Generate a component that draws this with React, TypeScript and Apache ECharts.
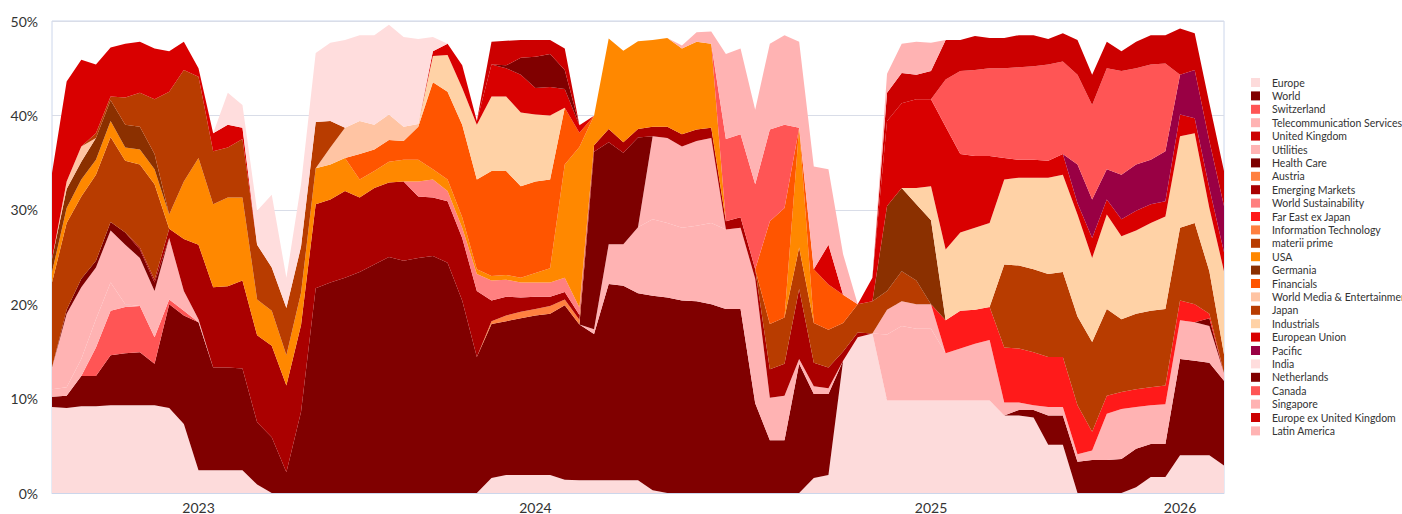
import React, { useEffect, useRef } from "react";
import * as echarts from "echarts";

// x positions (weekly-ish samples) and year ticks
const pointCount = 81;
const categories: string[] = Array.from({ length: pointCount }, (_, i) => String(i));
const yearLabels = ["2023", "2024", "2025", "2026"];
const yearIndex = [10, 33, 60, 77];
const yTicks = [0, 10, 20, 30, 40, 50];

const europe = [9.1, 9.0, 9.2, 9.2, 9.3, 9.3, 9.3, 9.3, 9.0, 7.3,
  2.4, 2.4, 2.4, 2.4, 0.9, 0, 0, 0, 0, 0,
  0, 0, 0, 0, 0, 0, 0, 0, 0, 0,
  1.6, 1.9, 1.9, 1.9, 1.9, 1.4, 1.35, 1.35, 1.35, 1.35,
  1.35, 0.3, 0, 0, 0, 0, 0, 0, 0, 0,
  0, 0, 1.6, 1.9, 14.0, 16.5, 16.9, 9.8, 9.8, 9.8,
  9.8, 9.8, 9.8, 9.8, 9.8, 8.2, 8.2, 8.0, 5.1, 5.1,
  0, 0, 0, 0, 0.6, 1.7, 1.7, 4.0, 4.0, 4.0,
  2.9];
const world = [1.1, 1.3, 3.2, 3.2, 5.3, 5.5, 5.6, 4.4, 11.0, 11.5,
  15.7, 10.9, 10.9, 10.8, 6.6, 5.9, 2.2, 8.6, 21.7, 22.3,
  22.8, 23.4, 24.2, 25.0, 24.6, 24.9, 25.1, 24.4, 20.4, 14.4,
  16.3, 16.3, 16.6, 16.9, 17.1, 18.5, 16.5, 15.5, 20.8, 20.6,
  19.8, 20.6, 20.7, 20.4, 20.3, 20.0, 19.5, 19.5, 9.5, 5.6,
  5.6, 13.7, 8.9, 8.6, 0, 0, 0, 0, 0, 0,
  0, 0, 0, 0, 0, 0, 0.6, 0.8, 3.1, 3.1,
  3.3, 3.5, 3.5, 3.6, 4.1, 3.5, 3.5, 10.2, 10.0, 9.8,
  9.0];
const switzerland = [0, 0, 0, 3.0, 4.7, 4.9, 4.9, 2.8, 0.5, 0.5,
  0, 0, 0, 0, 0, 0, 0, 0, 0, 0,
  0, 0, 0, 0, 0, 0, 0, 0, 0, 0,
  0, 0, 0, 0, 0, 0, 0, 0, 0, 0,
  0, 0, 0, 0, 0, 0, 0, 0, 0, 0,
  0, 0, 0, 0, 0, 0, 0, 0, 0, 0,
  0, 0, 0, 0, 0, 0, 0, 0, 0, 0,
  0, 0, 0, 0, 0, 0, 0, 0, 0, 0,
  0];
const telecom = [0.8, 0.9, 1.8, 3.0, 3.0, 0.3, 0, 0, 0, 0,
  0, 0, 0, 0, 0, 0, 0, 0, 0, 0,
  0, 0, 0, 0, 0, 0, 0, 0, 0, 0,
  0, 0, 0, 0, 0, 0, 0, 0.5, 4.2, 4.4,
  7.0, 8.1, 7.9, 7.7, 8.0, 8.6, 8.4, 8.6, 13.2, 4.5,
  4.7, 0.5, 0.8, 0.6, 0, 0, 0, 7.0, 7.9, 7.6,
  7.6, 5.0, 5.5, 6.0, 6.4, 1.4, 0.8, 0.5, 0.9, 0.9,
  0.8, 1.0, 4.9, 5.3, 4.4, 4.1, 4.2, 4.1, 4.1, 3.9,
  0.8];
const unitedKingdom = [0, 0, 0, 0, 0, 0, 0, 0, 0, 0,
  0, 0, 0, 0, 0, 0, 0, 0, 0, 0,
  0, 0, 0, 0, 0, 0, 0, 0, 0, 0,
  0, 0, 0, 0, 0, 0, 0, 0, 0, 0,
  0, 0, 0, 0, 0, 0, 0, 0, 0, 0,
  0, 0, 0, 0, 0, 0, 0, 0, 0, 0,
  0, 0, 0, 0, 0, 0, 0, 0, 0, 0,
  0, 0, 0, 0, 0, 0, 0, 0, 0, 0,
  0];
const utilities = [2.3, 7.8, 7.6, 5.5, 5.5, 6.3, 5.1, 4.9, 6.5, 2.1,
  0.3, 0, 0, 0, 0, 0, 0, 0, 0, 0,
  0, 0, 0, 0, 0, 0, 0, 0, 0, 0,
  0, 0, 0, 0, 0, 0, 0, 0, 0, 0,
  0, 8.8, 9.0, 8.6, 9.0, 9.0, 0, 0, 0, 0,
  0, 0, 0, 0, 0, 0, 0, 2.6, 2.6, 2.6,
  2.6, 0, 0, 0, 0, 0, 0, 0, 0, 0,
  0, 0, 0, 0, 0, 0, 0, 0, 0, 0,
  0];
const healthCare = [0, 0.4, 0.9, 0.7, 0.9, 1.3, 0.9, 0.9, 0, 0,
  0, 0, 0, 0, 0, 0, 0, 0, 0, 0,
  0, 0, 0, 0, 0, 0, 0, 0, 0, 0,
  0, 0, 0, 0, 0, 0, 0, 18.8, 10.8, 9.7,
  9.5, 0, 0, 0, 0, 0, 0, 0, 0, 0,
  0, 0, 0, 0, 0, 0, 0, 0, 0, 0,
  0, 0, 0, 0, 0, 0, 0, 0, 0, 0,
  0, 0, 0, 0, 0, 0, 0, 0, 0, 0.8,
  0];
const austria = [0, 0, 0, 0, 0, 0, 0, 0, 0, 0,
  0, 0, 0, 0, 0, 0, 0, 0, 0, 0,
  0, 0, 0, 0, 0, 0, 0, 0, 0, 0,
  0.3, 0.6, 0.7, 0.7, 0.8, 0.6, 0.5, 0, 0, 0,
  0, 0, 0, 0, 0, 0, 0, 0, 0, 0,
  0, 0, 0, 0, 0, 0, 0, 0, 0, 0,
  0, 0, 0, 0, 0, 0, 0, 0, 0, 0,
  0, 0, 0, 0, 0, 0, 0, 0, 0, 0,
  0];
const emergingMarkets = [0, 0, 0, 0, 0, 0, 0.2, 0.3, 1.0, 5.5,
  7.9, 8.5, 8.6, 9.3, 9.2, 9.7, 9.2, 9.2, 8.9, 8.8,
  9.2, 7.9, 8.1, 7.9, 8.4, 6.5, 6.2, 6.5, 6.6, 7.0,
  2.2, 2.0, 1.5, 1.3, 1.0, 0.8, 0.5, 0.7, 1.4, 1.1,
  0.9, 1.0, 1.2, 1.3, 1.2, 1.1, 0.9, 1.1, 1.0, 3.0,
  3.4, 7.4, 2.5, 2.2, 1.0, 0.5, 0, 0, 0, 0,
  0, 0, 0, 0, 0, 0, 0, 0, 0, 0,
  0, 0, 0, 0, 0, 0, 0, 0, 0, 0,
  0];
const worldSustainability = [0, 0, 0, 0, 0, 0, 0, 0, 0, 0,
  0, 0, 0, 0, 0, 0, 0, 0, 0, 0,
  0, 0, 0, 0, 0, 1.6, 1.9, 1.1, 1.1, 1.8,
  2.1, 1.8, 1.6, 1.5, 1.5, 1.5, 0.8, 0, 0, 0,
  0, 0, 0, 0, 0, 0, 0, 0, 0, 0,
  0, 0, 0, 0, 0, 0, 0, 0, 0, 0,
  0, 0, 0, 0, 0, 0, 0, 0, 0, 0,
  0, 0, 0, 0, 0, 0, 0, 0, 0, 0,
  0];
const farEastExJapan = [0, 0, 0, 0, 0, 0, 0, 0, 0, 0,
  0, 0, 0, 0, 0, 0, 0, 0, 0, 0,
  0, 0, 0, 0, 0, 0, 0, 0, 0, 0,
  0, 0, 0, 0, 0, 0, 0, 0, 0, 0,
  0, 0, 0, 0, 0, 0, 0, 0, 0, 0,
  0, 0, 0, 0, 0, 0, 0, 0, 0, 0,
  0, 3.5, 4.0, 3.6, 3.5, 5.8, 5.7, 5.6, 5.3, 5.3,
  5.2, 2.0, 1.9, 1.8, 1.9, 1.9, 2.0, 2.1, 1.9, 0.5,
  0];
const infoTech = [0, 0, 0, 0, 0, 0, 0, 0, 0, 0,
  0, 0, 0, 0, 0, 0, 0, 0, 0, 0,
  0, 0, 0, 0, 0, 0, 0, 0, 0, 0,
  0, 0, 0, 0, 0, 0, 0, 0, 0, 0,
  0, 0, 0, 0, 0, 0, 0, 0, 0, 0,
  0, 0, 0, 0, 0, 0, 0, 0, 0, 0,
  0, 0, 0, 0, 0, 0, 0, 0, 0, 0,
  0, 0, 0, 0, 0, 0, 0, 0, 0, 0,
  0];
const materiiPrime = [9.0, 9.2, 8.7, 9.1, 9.0, 7.6, 8.8, 10.1, 0, 0,
  0, 0, 0, 0, 0, 0, 0, 0, 0, 0,
  0, 0, 0, 0, 0, 0, 0, 0, 0, 0,
  0, 0, 0, 0, 0, 0, 0, 0, 0, 0,
  0, 0, 0, 0, 0, 0, 0, 0, 0, 4.8,
  4.9, 4.4, 4.2, 4.0, 3.0, 3.0, 3.4, 2.0, 3.2, 2.5,
  0, 0, 0, 0, 0, 8.8, 8.8, 8.8, 8.8, 9.0,
  9.4, 9.5, 9.2, 7.7, 8.0, 8.1, 8.1, 7.7, 8.6, 4.5,
  2.0];
const usa = [1.1, 1.6, 1.8, 1.6, 1.7, 1.4, 1.6, 1.6, 1.5, 6.1,
  9.2, 8.8, 9.4, 8.8, 3.8, 3.7, 3.2, 3.4, 3.8, 3.7,
  3.5, 1.9, 1.8, 2.2, 2.3, 2.3, 1.1, 1.2, 1.1, 0.5,
  0.5, 0.5, 0.5, 1.0, 1.5, 12.0, 17.0, 3.1, 9.6, 9.7,
  9.3, 9.2, 9.4, 9.1, 9.3, 8.9, 0, 0, 0, 0,
  0, 12.7, 0, 0, 0, 0, 0, 0, 0, 0,
  0, 0, 0, 0, 0, 0, 0, 0, 0, 0,
  0, 0, 0, 0, 0, 0, 0, 0, 0, 0,
  0];
const germania = [1.4, 2.0, 1.9, 2.3, 2.2, 2.4, 2.4, 1.6, 0, 0,
  0, 0, 0, 0, 0, 0, 0, 0, 0, 0,
  0, 0, 0, 0, 0, 0, 0, 0, 0, 0,
  0, 0, 0, 0, 0, 0, 0, 0, 0, 0,
  0, 0, 0, 0, 0, 0, 0, 0, 0, 0,
  0, 0, 0, 0, 0, 0, 0, 9.0, 8.8, 8.1,
  8.9, 0, 0, 0, 0, 0, 0, 0, 0, 0,
  0, 0, 0, 0, 0, 0, 0, 0, 0, 0,
  0];
const financials = [0, 0, 0, 0, 0, 0, 0, 0, 0, 0,
  0, 0, 0, 0, 0, 0, 0, 0, 0, 0,
  0, 2.7, 2.3, 2.3, 2.0, 3.5, 9.2, 9.3, 9.8, 9.5,
  11.1, 11.0, 9.7, 9.7, 9.4, 6.0, 1.5, 0, 0, 0,
  0, 0, 0, 0, 0, 0, 0, 0, 0, 10.9,
  11.6, 0, 5.7, 4.8, 3.0, 0, 0, 0, 0, 0,
  0, 0, 0, 0, 0, 0, 0, 0, 0, 0,
  0, 0, 0, 0, 0, 0, 0, 0, 0, 0,
  0];
const worldMedia = [0, 0.8, 1.6, 0, 0, 0, 0, 0, 0, 0,
  0, 0, 0, 0, 0, 0, 0, 0, 0, 1.8,
  3.2, 3.5, 2.6, 2.7, 1.5, 0.3, 0, 0, 0, 0,
  0, 0, 0, 0, 0, 0, 0, 0, 0, 0,
  0, 0, 0, 0, 0, 0, 0, 0, 0, 0,
  0, 0, 0, 0, 0, 0, 0, 0, 0, 0,
  0, 0, 0, 0, 0, 0, 0, 0, 0, 0,
  0, 0, 0, 0, 0, 0, 0, 0, 0, 0,
  0];
const japan = [0, 0, 0, 0.5, 0.4, 2.9, 3.6, 5.8, 13.0, 11.8,
  8.6, 5.6, 5.3, 6.2, 5.8, 4.6, 5.0, 4.9, 4.9, 2.8,
  0, 0, 0, 0, 0, 0, 0, 0, 0, 0,
  0, 0, 0, 0, 0, 0, 0, 0, 0, 0,
  0, 0, 0, 0, 0, 0, 0, 0, 0, 0,
  0, 0, 0, 0, 0, 0, 0, 0, 0, 0,
  0, 0, 0, 0, 0, 0, 0, 0, 0, 0,
  0, 0, 0, 0, 0, 0, 0, 0, 0, 0,
  0];
const industrials = [0, 0, 0, 0, 0, 0, 0, 0, 0, 0,
  0, 0, 0, 0, 0, 0, 0, 0, 0, 0,
  0, 0, 0, 0, 0, 0, 2.8, 3.9, 3.9, 5.8,
  7.9, 7.9, 7.8, 7.1, 6.8, 0, 0, 0, 0, 0,
  0, 0, 0, 0, 0, 0, 0, 0, 0, 0,
  0, 0, 0, 0, 0, 0, 0, 0, 0, 1.7,
  3.6, 7.5, 8.3, 8.7, 8.9, 9.0, 9.3, 9.7, 10.2, 10.3,
  10.8, 8.9, 10.0, 8.8, 8.8, 9.3, 9.8, 9.7, 9.5, 6.7,
  8.8];
const europeanUnion = [9.1, 10.6, 9.2, 7.3, 5.2, 5.7, 5.4, 5.4, 4.3, 3.0,
  0.9, 1.9, 2.4, 1.2, 0, 0, 0, 0, 0, 0,
  0, 0, 0, 0, 0, 0, 0.5, 1.2, 2.4, 0.4,
  3.4, 3.0, 4.0, 2.8, 3.0, 2.0, 0.8, 0, 0, 0,
  0, 0, 0, 0, 0, 0, 0, 0, 0, 0,
  0, 0, 0, 4.2, 0, 0, 2.5, 9.0, 9.0, 9.4,
  9.2, 13.0, 8.3, 7.6, 7.1, 2.3, 1.9, 1.9, 1.8, 2.2,
  1.2, 2.1, 1.6, 1.8, 2.1, 2.0, 1.6, 2.3, 1.6, 2.1,
  2.0];
const pacific = [0, 0, 0, 0, 0, 0, 0, 0, 0, 0,
  0, 0, 0, 0, 0, 0, 0, 0, 0, 0,
  0, 0, 0, 0, 0, 0, 0, 0, 0, 0,
  0, 0, 0, 0, 0, 0, 0, 0, 0, 0,
  0, 0, 0, 0, 0, 0, 0, 0, 0, 0,
  0, 0, 0, 0, 0, 0, 0, 0, 0, 0,
  0, 0, 0, 0, 0, 0, 0, 0, 0, 0,
  4.1, 4.1, 3.2, 4.7, 4.9, 4.7, 5.3, 4.2, 5.1, 5.0,
  4.9];
const india = [0, 0, 0, 0, 0, 0, 0, 0, 0, 0,
  0, 0, 3.4, 2.4, 3.6, 7.7, 3.2, 6.6, 7.3, 8.3,
  9.3, 9.1, 9.5, 9.5, 9.5, 9.0, 1.5, 0, 0, 0,
  0, 0, 0, 0, 0, 0, 0, 0, 0, 0,
  0, 0, 0, 0, 0, 0, 0, 0, 0, 0,
  0, 0, 0, 0, 0, 0, 0, 0, 0, 0,
  0, 0, 0, 0, 0, 0, 0, 0, 0, 0,
  0, 0, 0, 0, 0, 0, 0, 0, 0, 0,
  0];
const netherlands = [0, 0, 0, 0, 0, 0, 0, 0, 0, 0,
  0, 0, 0, 0, 0, 0, 0, 0, 0, 0,
  0, 0, 0, 0, 0, 0, 0, 0, 0, 0,
  0, 0.3, 1.8, 3.3, 3.5, 2.0, 0, 0, 0, 0,
  0, 0, 0, 0, 0, 0, 0, 0, 0, 0,
  0, 0, 0, 0, 0, 0, 0, 0, 0, 0,
  0, 0, 0, 0, 0, 0, 0, 0, 0, 0,
  0, 0, 0, 0, 0, 0, 0, 0, 0, 0,
  0];
const canada = [0, 0, 0, 0, 0, 0, 0, 0, 0, 0,
  0, 0, 0, 0, 0, 0, 0, 0, 0, 0,
  0, 0, 0, 0, 0, 0, 0, 0, 0, 0,
  0, 0, 0, 0, 0, 0, 0, 0, 0, 0,
  0, 0, 0, 0, 0, 0, 8.7, 8.8, 9.0, 9.7,
  8.8, 0, 0, 0, 0, 0, 0, 0, 0, 0,
  0, 5.0, 8.8, 9.1, 9.3, 9.5, 9.8, 9.9, 10.2, 9.8,
  9.5, 10.0, 10.7, 11.0, 10.2, 10.1, 9.3, 0, 0, 0,
  0];
const singapore = [0, 0, 0, 0, 0, 0, 0, 0, 0, 0,
  0, 0, 0, 0, 0, 0, 0, 0, 0, 0,
  0, 0, 0, 0, 0, 0, 0, 0, 0, 0,
  0, 0, 0, 0, 0, 0, 0, 0, 0, 0,
  0, 0, 0, 0.3, 1.0, 1.3, 9.0, 9.1, 7.9, 9.1,
  9.5, 9.1, 10.9, 8.0, 4.3, 0, 0, 0, 0, 0,
  0, 0, 0, 0, 0, 0, 0, 0, 0, 0,
  0, 0, 0, 0, 0, 0, 0, 0, 0, 0,
  0];
const europeExUK = [0, 0, 0, 0, 0, 0, 0, 0, 0, 0,
  0, 0, 0, 0, 0, 0, 0, 0, 0, 0,
  0, 0, 0, 0, 0, 0, 0, 0, 0, 0,
  2.4, 2.6, 1.9, 1.8, 1.5, 2.3, 0, 0, 0, 0,
  0, 0, 0, 0, 0, 0, 0, 0, 0, 0,
  0, 0, 0, 0, 0, 0, 0, 3.0, 3.2, 2.6,
  3.0, 4.2, 3.3, 3.6, 3.2, 3.2, 3.4, 3.3, 2.7, 3.0,
  3.7, 3.2, 2.8, 2.1, 2.8, 3.1, 3.0, 4.9, 3.9, 4.0,
  3.7];
const latinAmerica = [0, 0, 0, 0, 0, 0, 0, 0, 0, 0,
  0, 0, 0, 0, 0, 0, 0, 0, 0, 0,
  0, 0, 0, 0, 0, 0, 0, 0, 0, 0,
  0, 0, 0, 0, 0, 0, 0, 0, 0, 0,
  0, 0, 0, 0, 0, 0, 0, 0, 0, 0,
  0, 0, 0, 0, 0, 0, 0, 2.0, 3.1, 3.5,
  3.0, 0, 0, 0, 0, 0, 0, 0, 0, 0,
  0, 0, 0, 0, 0, 0, 0, 0, 0, 0,
  0];

const seriesNames = [
  "Europe", "World", "Switzerland", "Telecommunication Services", "United Kingdom",
  "Utilities", "Health Care", "Austria", "Emerging Markets", "World Sustainability",
  "Far East ex Japan", "Information Technology", "materii prime", "USA", "Germania",
  "Financials", "World Media & Entertainment", "Japan", "Industrials", "European Union",
  "Pacific", "India", "Netherlands", "Canada", "Singapore", "Europe ex United Kingdom",
  "Latin America",
];
const seriesData = [
  europe, world, switzerland, telecom, unitedKingdom, utilities, healthCare, austria,
  emergingMarkets, worldSustainability, farEastExJapan, infoTech, materiiPrime, usa,
  germania, financials, worldMedia, japan, industrials, europeanUnion, pacific, india,
  netherlands, canada, singapore, europeExUK, latinAmerica,
];
const seriesColors = [
  "#fddbdb", "#800000", "#ff5555", "#ffb3b3", "#cc0000", "#ffb3b3", "#7d0000", "#ff8040",
  "#aa0000", "#ff8080", "#ff1a1a", "#ff8040", "#b83c00", "#ff8800", "#8b3000", "#ff5500",
  "#ffc4a3", "#b83c00", "#ffd2a6", "#d90000", "#990044", "#ffdddd", "#800000", "#ff5555",
  "#ffb3b3", "#cc0000", "#ffb3b3",
];

export default function App() {
  const ref = useRef<HTMLDivElement>(null);
  useEffect(() => {
    if (!ref.current) return;
    const chart = echarts.init(ref.current, undefined, { renderer: "svg" });
    const font = "Lato, 'Open Sans', sans-serif";
    chart.setOption({
      animation: false,
      textStyle: { fontFamily: font },
      grid: {
        left: 52, right: 178, top: 21, bottom: 20,
        show: true, borderColor: "#ccd6eb", borderWidth: 1,
      },
      legend: {
        orient: "vertical",
        left: 1246,
        top: 71,
        icon: "rect",
        itemWidth: 9,
        itemHeight: 9,
        itemGap: 0.4,
        data: seriesNames,
        textStyle: { fontSize: 10.5, color: "#333", lineHeight: 13, fontFamily: font, padding: [0, 0, 0, 7] },
      },
      xAxis: {
        type: "category",
        data: categories,
        boundaryGap: false,
        axisLine: { show: true, lineStyle: { color: "#ccd6eb" } },
        axisTick: { show: false },
        splitLine: { show: false },
        axisLabel: {
          interval: (index: number) => yearIndex.includes(index),
          formatter: (_v: string, index: number) => {
            const k = yearIndex.indexOf(index);
            return k >= 0 ? yearLabels[k] : "";
          },
          color: "#333",
          fontSize: 14,
          margin: 7,
          fontFamily: font,
        },
      },
      yAxis: {
        type: "value",
        min: yTicks[0],
        max: yTicks[yTicks.length - 1],
        interval: 10,
        axisLine: { show: false },
        axisTick: { show: false },
        splitLine: { lineStyle: { color: "#d9dde8", width: 1 } },
        axisLabel: { formatter: "{value}%", color: "#333", fontSize: 14, margin: 14, fontFamily: font },
      },
      series: seriesNames.map((name, i) => ({
        name,
        type: "line",
        stack: "total",
        data: seriesData[i],
        symbol: "none",
        showSymbol: false,
        lineStyle: { width: 0, color: seriesColors[i] },
        itemStyle: { color: seriesColors[i] },
        areaStyle: { color: seriesColors[i], opacity: 1 },
        emphasis: { disabled: true },
      })),
    });
    return () => chart.dispose();
  }, []);
  return (
    <div
      ref={ref}
      style={{ position: "fixed", left: 0, top: 0, width: 1402, height: 514, background: "#fff" }}
    />
  );
}
